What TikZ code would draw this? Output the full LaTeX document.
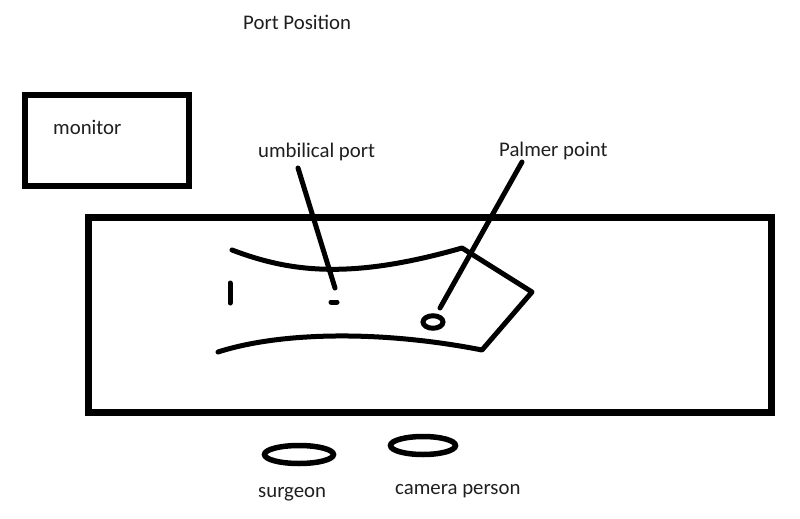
\documentclass[tikz,border=0pt]{standalone}
\usepackage{fontspec}
\setmainfont{Carlito}
\usetikzlibrary{shapes.geometric}
\tikzset{
  lbl/.style={anchor=base west, inner sep=0pt, font=\fontsize{20.8}{24}\selectfont, text=black!88},
  thick stroke/.style={line width=5pt, line cap=round, line join=round},
  frame/.style={line width=6.5pt, line join=miter},
}
\begin{document}
\begin{tikzpicture}[x=1pt, y=-1pt]
\useasboundingbox[fill=white] (0,0) rectangle (800,519);
% frames
\draw[frame, line width=6pt] (25,95) rectangle (188.5,186);
\draw[frame, line width=7pt] (88,217) rectangle (771,412);
% labels
\node[lbl] (title) at (243,30) {Port Position};
\node[lbl] (mon) at (53,134) {monitor};
\node[lbl] (umb) at (258,157) {umbilical port};
\node[lbl] (palm) at (499,156) {Palmer point};
\node[lbl] (surg) at (258,497) {surgeon};
\node[lbl] (cam) at (395,494.5) {camera person};
% patient outline
\coordinate (ua) at (232,250);
\coordinate (ub) at (462,248);
\coordinate (uc) at (532,292);
\coordinate (ud) at (482,350);
\coordinate (la) at (218,352);
\draw[thick stroke] (ua) .. controls (290,272) and (350,280) .. (ub) -- (uc) -- (ud)
  .. controls (380,330) and (280,332) .. (la);
\draw[thick stroke] (230,283) -- (230,303);
% ports
\coordinate (umbport) at (334,302);
\draw[thick stroke] (331,302) -- (337,302);
\node[draw, ellipse, minimum width=20pt, minimum height=12.5pt, inner sep=0pt, line width=5pt] (palmport) at (433,322) {};
% leaders
\coordinate (umbtop) at (298,168);
\coordinate (umbbot) at (335,288);
\coordinate (palmtop) at (522,162);
\coordinate (palmbot) at (440,308);
\draw[thick stroke] (umbtop) -- (umbbot);
\draw[thick stroke] (palmtop) -- (palmbot);
% people
\node[draw, ellipse, minimum width=69pt, minimum height=18pt, inner sep=0pt, line width=5.5pt] (surgpos) at (299,454.5) {};
\node[draw, ellipse, minimum width=65pt, minimum height=18pt, inner sep=0pt, line width=5.5pt] (campos) at (423,445.5) {};
\end{tikzpicture}
\end{document}
